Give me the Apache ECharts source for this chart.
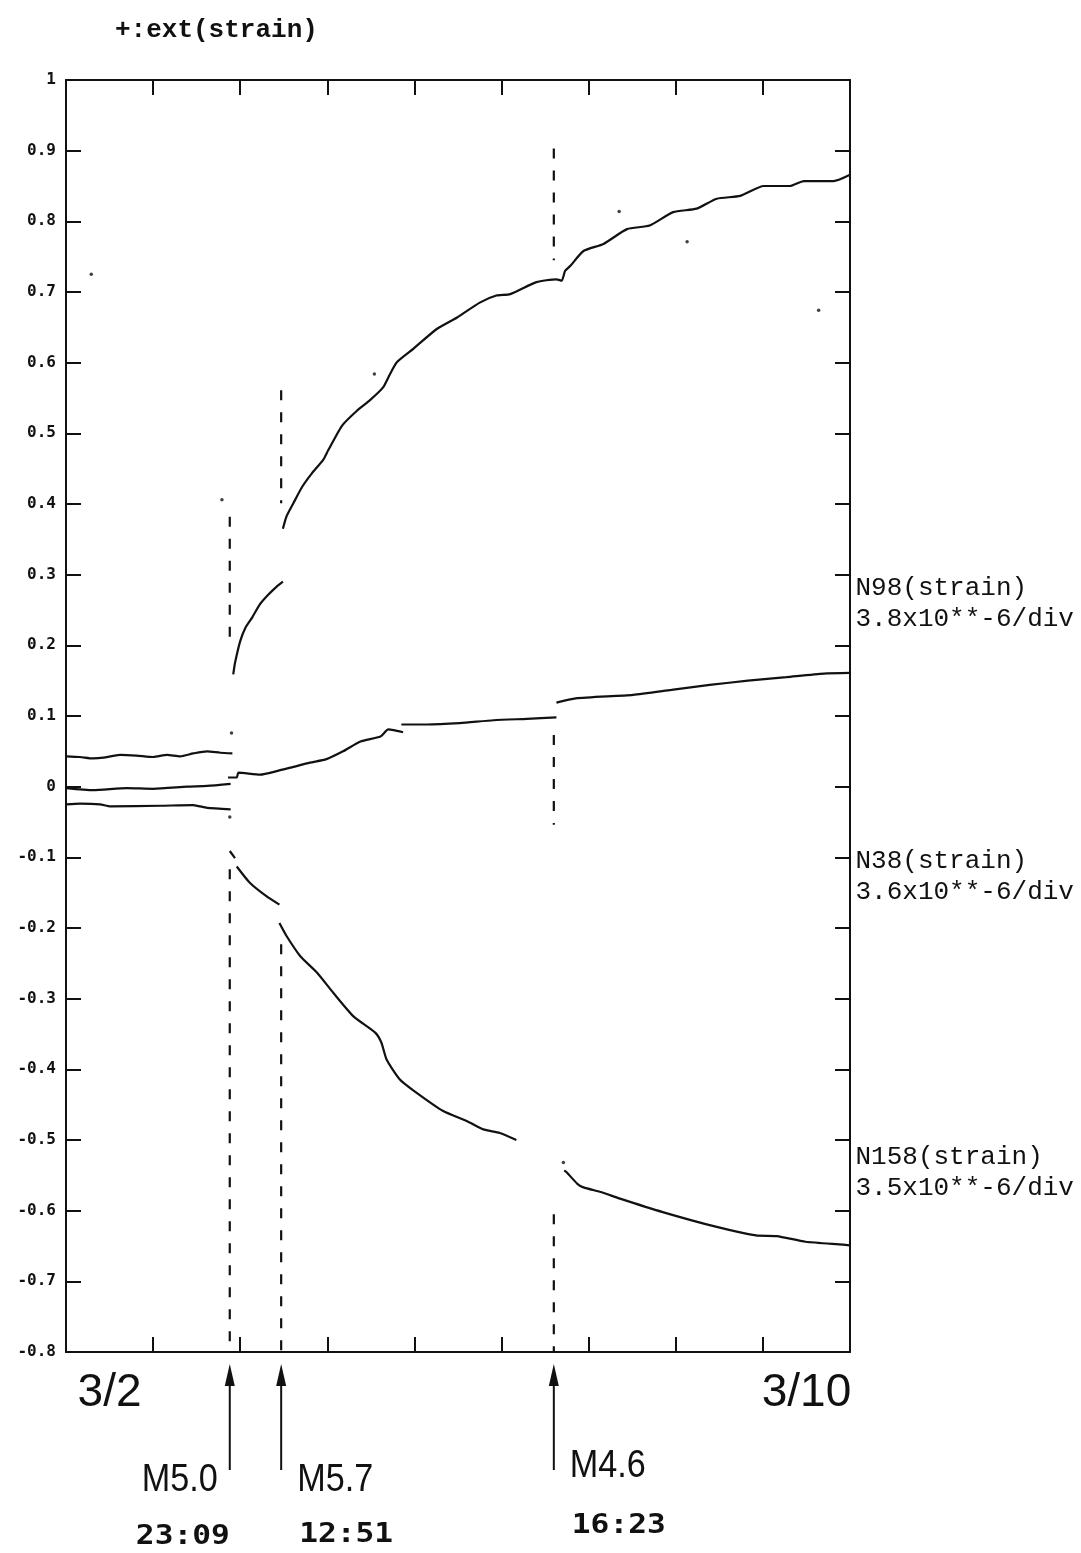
<!DOCTYPE html>
<html><head><meta charset="utf-8">
<script src="https://cdn.jsdelivr.net/npm/echarts@6/dist/echarts.min.js"></script>
<style>html,body{margin:0;padding:0;background:#fff}#c{width:1081px;height:1553px}</style>
</head><body><div id="c"></div>
<script>
// ---------- data ----------
const titleText = '+:ext(strain)';
const dayLabels = ['3/2', '', '', '', '', '', '', '', '3/10'];   // one label per day band
const xMin = 0, xMax = 9, xStep = 1;          // days since 3/2 00:00
const yMin = -0.8, yMax = 1, yStep = 0.1;

// curve N98 (null = pen lift)
const n98Days = [0.00,0.16,0.31,0.43,0.62,0.81,1.00,1.16,1.31,1.46,1.62,1.77,1.91, null,
  1.92,1.94,2.00,2.06,2.14,2.22,2.31,2.40,2.49, null,
  2.49,2.53,2.61,2.71,2.82,2.95,3.01,3.17,3.34,3.49,3.64,3.72,3.80,3.99,4.26,4.49,4.75,4.94,5.10,5.40,
  5.63,5.69,5.73,5.79,5.94,6.17,6.44,6.70,6.97,7.24,7.47,7.74,8.01,8.31,8.47,8.81,9.00];
const n98Vals = [0.043,0.042,0.040,0.041,0.045,0.044,0.042,0.045,0.043,0.047,0.050,0.048,0.047, null,
  0.159,0.175,0.206,0.225,0.240,0.257,0.270,0.281,0.290, null,
  0.365,0.382,0.401,0.424,0.443,0.462,0.476,0.511,0.532,0.547,0.565,0.584,0.601,0.620,0.648,0.664,0.685,0.695,0.697,0.714,
  0.718,0.716,0.730,0.737,0.758,0.768,0.789,0.794,0.813,0.818,0.832,0.836,0.850,0.850,0.857,0.857,0.866];

// curve N38
const n38Days = [0.00,0.31,0.70,1.00,1.39,1.62,1.89, null,
  1.86,1.96,1.98,2.23,2.42,2.61,2.80,2.99,3.18,3.38,3.61,3.70,3.76,3.87, null,
  3.85,4.14,4.52,4.91,5.29,5.63, null,
  5.63,5.85,6.51,6.95,7.39,7.83,8.27,8.70,9.00];
const n38Vals = [-0.002,-0.005,-0.002,-0.003,0.000,0.001,0.004, null,
  0.013,0.013,0.020,0.017,0.022,0.028,0.034,0.039,0.050,0.064,0.071,0.081,0.080,0.077, null,
  0.088,0.088,0.090,0.094,0.096,0.098, null,
  0.119,0.125,0.130,0.137,0.144,0.150,0.155,0.160,0.161];

// curve N158
const n158Days = [0.00,0.16,0.39,0.51,1.08,1.46,1.62,1.89, null,
  1.88,1.94, null,
  1.96,2.11,2.30,2.45, null,
  2.45,2.53,2.69,2.88,3.07,3.30,3.55,3.62,3.68,3.83,3.99,4.33,4.60,4.79,4.98,5.17, null,
  5.72,5.75,5.87,5.94,6.15,6.36,6.85,7.47,7.92,8.16,8.49,8.92,9.00];
const n158Vals = [-0.025,-0.024,-0.025,-0.028,-0.027,-0.026,-0.030,-0.032, null,
  -0.091,-0.101, null,
  -0.113,-0.136,-0.155,-0.167, null,
  -0.193,-0.211,-0.240,-0.263,-0.292,-0.325,-0.348,-0.362,-0.386,-0.414,-0.430,-0.459,-0.473,-0.485,-0.490,-0.500, null,
  -0.543,-0.546,-0.562,-0.567,-0.574,-0.583,-0.602,-0.623,-0.635,-0.636,-0.644,-0.648,-0.649];

// isolated pen dots
const speckDays = [0.29, 1.79, 1.88, 1.90, 3.54, 5.71, 6.35, 7.13, 8.64];
const speckVals = [0.725, 0.406, -0.043, 0.076, 0.584, -0.532, 0.814, 0.771, 0.674];

// earthquakes
const eventNames = ['M5.0', 'M5.7', 'M4.6'];
const eventTimes = ['23:09', '12:51', '16:23'];
const eventDays = [1.88, 2.47, 5.60];
const eventDashRanges = [
  [[0.382, 0.211], [-0.117, -0.8]],
  [[0.561, 0.401], [-0.223, -0.8]],
  [[0.903, 0.745], [0.073, -0.054], [-0.605, -0.8]]
];

// right-hand channel labels
const chanNames = ['N98(strain)', 'N38(strain)', 'N158(strain)'];
const chanScales = ['3.8x10**-6/div', '3.6x10**-6/div', '3.5x10**-6/div'];
const chanLabelVals = [0.259, -0.127, -0.546];

// ---------- build ----------
function pairs(days, vals) {
  const out = [];
  for (let i = 0; i < vals.length; i++) {
    if (vals[i] === null) out.push([days[i - 1], '-']);
    else out.push([days[i], vals[i]]);
  }
  return out;
}
const dashData = [];
eventDays.forEach((d, i) => {
  eventDashRanges[i].forEach(r => { dashData.push([d, r[0]], [d, r[1]], [d, '-']); });
});

const BLACK = '#111';
const axisLine = { show: true, onZero: false, lineStyle: { color: BLACK, width: 2 } };
const tick = { show: true, inside: true, length: 15, lineStyle: { color: BLACK, width: 2 } };

const curveStyle = { color: BLACK, width: 2.2 };
function curve(name, days, vals) {
  return { name, type: 'line', data: pairs(days, vals), showSymbol: false, symbol: 'none',
    smooth: 0.2,
    lineStyle: curveStyle, connectNulls: false, animation: false, z: 3 };
}

const chart = echarts.init(document.getElementById('c'), null, { renderer: 'canvas' });
chart.setOption({
  animation: false,
  backgroundColor: '#fff',
  title: { text: titleText, left: 110, top: 12,
    textStyle: { fontFamily: 'Liberation Mono', fontSize: 26, fontWeight: 'bold', color: BLACK } },
  grid: { left: 66, right: 231, top: 80, bottom: 201, containLabel: false },
  xAxis: [
    { type: 'value', min: xMin, max: xMax, interval: xStep, position: 'bottom',
      axisLine, axisTick: tick, axisLabel: { show: false }, splitLine: { show: false } },
    { type: 'value', min: xMin, max: xMax, interval: xStep, position: 'top',
      axisLine, axisTick: tick, axisLabel: { show: false }, splitLine: { show: false } },
    { type: 'category', data: dayLabels, position: 'bottom', boundaryGap: true,
      axisLine: { show: false }, axisTick: { show: false }, splitLine: { show: false },
      axisLabel: { interval: 0, margin: 18, fontFamily: 'Liberation Sans', fontSize: 46, color: BLACK } }
  ],
  yAxis: [
    { type: 'value', min: yMin, max: yMax, interval: yStep, position: 'left',
      axisLine, axisTick: tick, splitLine: { show: false },
      axisLabel: { margin: 10, fontFamily: 'DejaVu Sans Mono', fontWeight: 'bold', fontSize: 16, color: BLACK,
        formatter: v => String(Math.round(v * 10) / 10) } },
    { type: 'value', min: yMin, max: yMax, interval: yStep, position: 'right',
      axisLine, axisTick: tick, axisLabel: { show: false }, splitLine: { show: false } }
  ],
  series: [
    curve('N98', n98Days, n98Vals),
    curve('N38', n38Days, n38Vals),
    curve('N158', n158Days, n158Vals),
    { name: 'events', type: 'line', data: dashData, showSymbol: false, symbol: 'none', connectNulls: false,
      lineStyle: { color: BLACK, width: 2.2, type: [10, 12] }, z: 2 },
    { name: 'dots', type: 'scatter', data: speckDays.map((d, i) => [d, speckVals[i]]),
      symbolSize: 3.5, itemStyle: { color: BLACK } },
    { name: 'channels', type: 'scatter', clip: false, xAxisIndex: 0, yAxisIndex: 0,
      data: chanLabelVals.map(v => [xMax, v]), symbolSize: 1, itemStyle: { color: 'rgba(0,0,0,0)' },
      label: { show: true, position: 'right', distance: 5, color: BLACK, opacity: 1,
        fontFamily: 'Liberation Mono', fontSize: 26, lineHeight: 31, align: 'left',
        formatter: p => chanNames[p.dataIndex] + '\n' + chanScales[p.dataIndex] } }
  ]
});

// arrows and event annotations under the axis
const axisY = chart.convertToPixel({ yAxisIndex: 0 }, yMin);
const layout = [
  { side: -1, my: 129, ty: 185 },
  { side: 1, my: 129, ty: 183 },
  { side: 1, my: 115, ty: 174 }
];
const g = [];
eventDays.forEach((d, i) => {
  const px = chart.convertToPixel({ xAxisIndex: 0 }, d);
  const tip = axisY + 12;
  g.push({ type: 'polygon', shape: { points: [[px, tip], [px - 5, tip + 22], [px + 5, tip + 22]] },
    style: { fill: BLACK } });
  g.push({ type: 'line', shape: { x1: px, y1: tip + 10, x2: px, y2: axisY + 118 },
    style: { stroke: BLACK, lineWidth: 2 } });
  const L = layout[i];
  const left = L.side > 0;
  g.push({ type: 'text', x: left ? px + 16 : px - 12, y: axisY + L.my, scaleX: 0.9,
    style: { text: eventNames[i], font: '38px "Liberation Sans"', fill: BLACK,
      textAlign: left ? 'left' : 'right', align: left ? 'left' : 'right',
      textVerticalAlign: 'middle', verticalAlign: 'middle' } });
  g.push({ type: 'text', x: left ? px + 18 : px, y: axisY + L.ty, scaleX: 1.2,
    style: { text: eventTimes[i], font: 'bold 26px "DejaVu Sans Mono"', fill: BLACK,
      textAlign: left ? 'left' : 'right', align: left ? 'left' : 'right',
      textVerticalAlign: 'middle', verticalAlign: 'middle' } });
});
chart.setOption({ graphic: g });
</script>
</body></html>
